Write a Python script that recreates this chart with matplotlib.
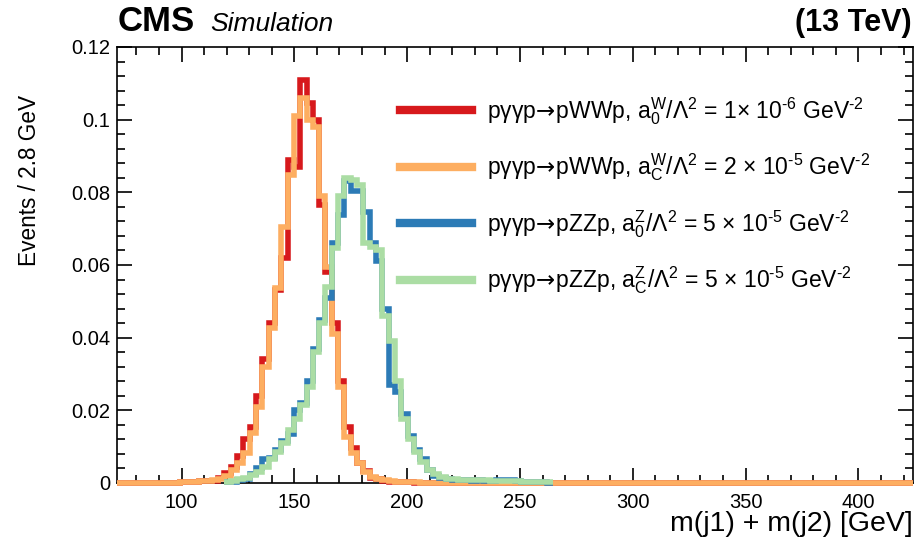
import numpy as np
import matplotlib
matplotlib.use("Agg")
import matplotlib.pyplot as plt
from matplotlib.ticker import MultipleLocator

plt.rcParams['font.family'] = ['Liberation Sans', 'DejaVu Sans']
plt.rcParams['mathtext.fontset'] = 'custom'
plt.rcParams['mathtext.rm'] = 'Liberation Sans'
plt.rcParams['mathtext.it'] = 'Liberation Sans:italic'
plt.rcParams['mathtext.bf'] = 'Liberation Sans:bold'
plt.rcParams['mathtext.sf'] = 'DejaVu Sans'

# Binning: 2.8 GeV bins
x_lo = 71.4
bin_w = 2.8
n_bins = 126

# WW samples, first stored bin index = 10
ww_first = 10
ww_a0 = [0.0002, 0.0003, 0.0004, 0.0005, 0.0006, 0.0006, 0.0015, 0.0028, 0.0045, 0.0075,
         0.012, 0.0155, 0.024, 0.034, 0.044, 0.053, 0.062, 0.089, 0.087, 0.111,
         0.1045, 0.100, 0.0765, 0.058, 0.044, 0.028, 0.0155, 0.0095, 0.0055, 0.0032,
         0.0015, 0.001, 0.0006, 0.0004, 0.0003, 0.0002, 0.0002, 0.0001, 0.0001, 0.0001]
ww_aC = [0.0002, 0.0003, 0.0004, 0.0005, 0.0006, 0.0008, 0.0012, 0.0019, 0.0036, 0.0055,
         0.0082, 0.0137, 0.021, 0.032, 0.0427, 0.0537, 0.0705, 0.0848, 0.101, 0.106,
         0.100, 0.098, 0.079, 0.0595, 0.041, 0.0265, 0.0127, 0.0083, 0.0055, 0.003,
         0.0017, 0.001, 0.0007, 0.0005, 0.0004, 0.0003, 0.0002, 0.0002, 0.0001, 0.0001]

# ZZ samples, first stored bin index = 17
zz_first = 17
zz_a0 = [0.0003, 0.0004, 0.0008, 0.0012, 0.0025, 0.004, 0.0065, 0.0068, 0.009, 0.0115,
         0.0135, 0.020, 0.022, 0.028, 0.037, 0.045, 0.051, 0.066, 0.0737, 0.083,
         0.0805, 0.0805, 0.0745, 0.066, 0.061, 0.048, 0.027, 0.025, 0.019, 0.013,
         0.009, 0.0066, 0.0035, 0.002, 0.0014, 0.0011, 0.0009, 0.0008, 0.0007, 0.0006,
         0.0008, 0.0006, 0.0005, 0.0008, 0.0008, 0.0008, 0.0006, 0.0004, 0.0003, 0.0002,
         0.0002, 0.0001]
zz_aC = [0.0004, 0.0006, 0.001, 0.0015, 0.0022, 0.003, 0.0045, 0.0065, 0.0085, 0.011,
         0.0146, 0.0175, 0.0215, 0.0265, 0.036, 0.044, 0.054, 0.0647, 0.079, 0.084,
         0.0835, 0.082, 0.066, 0.065, 0.064, 0.046, 0.039, 0.028, 0.0175, 0.012,
         0.0085, 0.0058, 0.0036, 0.0025, 0.0017, 0.0012, 0.001, 0.0009, 0.0008, 0.0008,
         0.0007, 0.0007, 0.0006, 0.0006, 0.0006, 0.0005, 0.0005, 0.0004, 0.0004, 0.0003,
         0.0003, 0.0002]

arrow = r'$\!\mathsf{\rightarrow}\!$'
labels = [
    'pγγp' + arrow + r'pWWp, $\mathrm{a}_{0}^{\mathrm{W}}$/Λ$^{2}$ = 1× 10$^{\text{-6}}$ GeV$^{\text{-2}}$',
    'pγγp' + arrow + r'pWWp, $\mathrm{a}_{\mathrm{C}}^{\mathrm{W}}$/Λ$^{2}$ = 2 × 10$^{\text{-5}}$ GeV$^{\text{-2}}$',
    'pγγp' + arrow + r'pZZp, $\mathrm{a}_{0}^{\mathrm{Z}}$/Λ$^{2}$ = 5 × 10$^{\text{-5}}$ GeV$^{\text{-2}}$',
    'pγγp' + arrow + r'pZZp, $\mathrm{a}_{\mathrm{C}}^{\mathrm{Z}}$/Λ$^{2}$ = 5 × 10$^{\text{-5}}$ GeV$^{\text{-2}}$',
]
colors = ['#d7191c', '#fdae61', '#2c7bb6', '#abdda4']

edges = x_lo + bin_w * np.arange(n_bins + 1)


def full_hist(first, vals):
    h = np.zeros(n_bins)
    h[first:first + len(vals)] = vals
    return h


fig = plt.figure(figsize=(9.17, 5.47), dpi=100)
ax = fig.add_axes([117 / 917, 1 - 483 / 547, 796 / 917, 436 / 547])

lw = 4.0
# WW: drawn over the full range
for vals, col, z in [(ww_a0, colors[0], 3), (ww_aC, colors[1], 4)]:
    ax.stairs(full_hist(ww_first, vals), edges, color=col, lw=lw,
              joinstyle='miter', capstyle='butt', zorder=z, clip_on=False)
# ZZ: drawn over the filled range
for vals, col, z in [(zz_a0, colors[2], 5), (zz_aC, colors[3], 6)]:
    e = edges[zz_first:zz_first + len(vals) + 1]
    ax.stairs(np.array(vals), e, color=col, lw=lw, baseline=None,
              joinstyle='miter', capstyle='butt', zorder=z, clip_on=False)

ax.set_xlim(edges[0], edges[-1])
ax.set_ylim(0, 0.12)
ax.xaxis.set_major_locator(MultipleLocator(50))
ax.xaxis.set_minor_locator(MultipleLocator(10))
ax.yaxis.set_minor_locator(MultipleLocator(0.004))
ax.set_yticks([0, 0.02, 0.04, 0.06, 0.08, 0.1, 0.12])
ax.set_yticklabels(['0', '0.02', '0.04', '0.06', '0.08', '0.1', '0.12'])
ax.tick_params(which='both', direction='in', top=True, right=True, width=1.2,
               labelsize=14.5, colors='black')
ax.tick_params(which='major', length=11)
ax.tick_params(which='minor', length=6)
ax.tick_params(axis='x', pad=7)
ax.tick_params(axis='y', pad=5)
for s in ax.spines.values():
    s.set_linewidth(1.2)
    s.set_zorder(2)

# Legend
handles = [plt.Line2D([], [], color=c, lw=6) for c in colors]
leg = ax.legend(handles, labels, loc='upper left', bbox_to_anchor=(0.33, 0.937),
                frameon=False, fontsize=16.5, handlelength=3.15, handletextpad=0.62,
                labelspacing=1.08)

fig.text(913 / 917, 1 - 524 / 547, 'm(j1) + m(j2) [GeV]', ha='right', va='center',
         fontsize=20.5)
fig.text(30 / 917, 1 - 95 / 547, 'Events / 2.8 GeV', ha='center', va='top',
         rotation=90, fontsize=16.3)
fig.text(118 / 917, 1 - 31 / 547, 'CMS', ha='left', va='baseline',
         fontsize=25, fontweight='bold')
fig.text(210 / 917, 1 - 31 / 547, 'Simulation', ha='left', va='baseline',
         fontsize=19, fontstyle='italic')
fig.text(912 / 917, 1 - 31 / 547, '(13 TeV)', ha='right', va='baseline',
         fontsize=22, fontweight='bold')

fig.savefig('out.png', dpi=100)
